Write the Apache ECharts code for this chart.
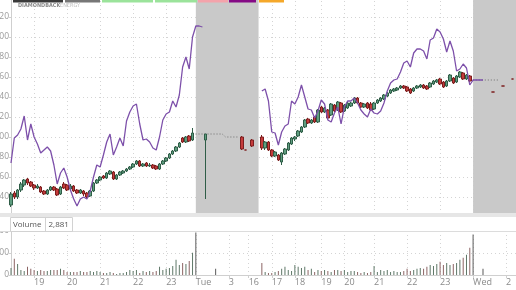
<!DOCTYPE html>
<html><head><meta charset="utf-8">
<script src="https://cdn.jsdelivr.net/npm/echarts@6/dist/echarts.min.js"></script>
<style>html,body{margin:0;padding:0;background:#fff}#c{width:516px;height:290px}</style>
</head><body><div id="c"></div>
<script>
// ---- data ----
const slotCount = 154;
const tickSlots = [7,17,27,37,47,56,66,72,79,86,94,101,110,120,130,140,150];
const tickTexts = ['19','20','21','22','23','Tue','3','16','17','18','19','20','21','22','23','Wed','2'];
// [slot, open, close, low, high]
const candleRows = [
[0,32,43,30,45],[1,44,40,38,46],[2,40,47,38,48],[3,47,53,45,55],[4,52,57,50,58],[5,58,54,52,59],
[6,55,51,50,56],[7,52,49,47,53],[8,49,51,48,53],[9,50,45,44,51],[10,46,43,42,47],[11,43,47,42,48],
[12,47,50,46,51],[13,50,47,46,51],[14,48,42,41,49],[15,43,50,42,51],[16,53,49,48,55],[17,52,47,46,53],
[18,48,51,47,53],[19,51,46,45,52],[20,47,44,43,48],[21,44,47,43,48],[22,46,43,41,47],[23,44,40,39,45],
[24,41,46,40,47],[25,46,54,45,55],[26,54,57,53,58],[27,57,60,56,61],[28,61,59,58,62],[29,59,64,58,65],
[30,63,66,62,67],[31,65,58,57,66],[32,58,62,57,63],[33,62,65,61,66],[34,64,66,63,67],[35,66,68,65,69],
[36,68,70,67,71],[37,70,73,69,74],[38,73,76,72,77],[39,76,71,70,77],[40,71,73,70,74],[41,74,71,70,75],
[42,71,72,70,74],[43,72,69,68,73],[44,71,68,67,72],[45,68,73,67,74],[46,73,76,72,77],[47,76,79,75,80],
[48,79,83,78,84],[49,83,86,82,87],[50,86,90,85,91],[51,90,94,89,95],[52,99,95,94,100],[53,95,100,94,101],
[54,101,96,95,102],[55,97,104,96,109],
[59,97,103,38,103],[70,100,88,87,101],[71,87,87,87,87],[73,97,91,90,98],
[76,100,89,87,102],[77,89,95,87,96],[78,95,87,86,96],[79,87,81,80,88],[80,81,85,80,86],[81,82,77,76,83],
[82,75,84,72,85],[83,83,88,82,89],[84,87,94,86,95],[85,93,99,92,100],[86,98,100,96,101],[87,101,106,100,107],
[88,105,110,104,111],[89,110,117,109,118],[90,118,114,113,119],[91,114,117,113,118],[92,120,115,114,121],
[93,115,127,114,128],[94,130,125,124,131],[95,125,129,124,130],[96,127,119,118,128],[97,122,133,121,134],
[98,132,126,125,133],[99,127,135,126,136],[100,134,125,124,135],[101,126,132,125,133],[102,129,134,128,135],
[103,131,134,130,135],[104,134,139,133,140],[105,139,134,133,140],[106,134,130,129,135],[107,130,133,129,134],
[108,134,129,128,135],[109,133,127,126,135],[110,128,134,127,135],[111,134,137,133,138],[112,136,139,135,140],
[113,138,142,137,143],[114,141,144,140,145],[115,144,147,143,148],[116,146,148,145,149],[117,147,149,146,150],
[118,149,151,148,152],[119,151,149,148,152],[120,150,146,145,151],[121,148,144,143,149],[122,146,149,145,150],
[123,149,151,148,152],[124,150,152,149,153],[125,152,149,148,153],[126,151,148,147,152],[127,150,154,149,155],
[128,153,156,152,157],[129,155,157,154,158],[130,158,153,152,159],[131,155,150,149,156],[132,151,156,150,157],
[133,156,162,155,163],[134,159,154,153,160],[135,155,161,154,162],[136,160,165,159,166],[137,164,158,157,165],
[138,158,162,157,163],[139,161,156,155,162],
[146,145,145,145,145],[149,151,151,151,151],[152,158,158,158,158]
];
const purpleStart1 = 0;
const purple1 = [74,99,102,108,121,97,113,100,93,84,87,90,86,72,53,64,69,60,47,38,
31,38,40,38,46,60,72,70,82,95,103,82,90,99,91,116,125,131,133,113,
97,98,95,89,87,100,117,123,125,136,130,142,170,180,168,200,211,211,210];
const purpleStart2 = 76;
const purple2 = [146,148,136,105,104,92,105,111,113,136,133,140,152,140,128,127,119,126,137,133,
117,115,124,130,113,130,136,136,139,134,127,123,120,128,124,123,126,134,146,154,
157,158,165,174,176,170,184,188,188,186,178,197,199,208,205,198,185,196,186,166,
168,173,169,152,157,157,157,157];
// dotted extended-hours price line: [slot, value]
const extLine = [[55,103],[56,103],[57,103],[58,103],[59,103],[60,103],[61,103],[62,103],[63,103],[64,103],
[65,100],[66,100],[67,100],[68,100],[69,100]];
const extLine2 = [[139,157],[140,157],[141,157],[142,157],[143,157],[144,157],[145,157],[146,157],[147,157],[148,157]];
const volStart1 = 0;
const vol1 = [160,370,250,115,90,185,140,115,90,115,90,90,115,115,115,140,115,70,70,70,
70,90,70,70,90,70,90,70,45,45,70,45,25,45,45,70,115,90,115,45,
90,70,90,70,90,185,115,140,160,205,345,230,275,250,320,505,965];
const volStart2 = 76;
const vol2 = [275,70,45,45,70,90,140,185,115,90,230,185,160,185,115,140,70,115,90,115,
90,70,115,115,90,115,70,90,90,70,45,70,45,70,205,70,115,90,115,70,
90,70,70,90,140,90,115,140,160,140,185,230,205,250,300,230,275,230,250,275,
345,390,460,620,920];
const volExtra = [[62,140],[143,140]];
const volumeLast = '2,881';

// ---- build ----
const categories = Array.from({length: slotCount}, (_, i) => String(i));
const tickMap = {}; tickSlots.forEach((s, k) => tickMap[s] = tickTexts[k]);
const isTick = (idx) => tickMap[idx] !== undefined;

const candleData = Array(slotCount).fill('-');
const dirAt = {};
candleRows.forEach(r => { candleData[r[0]] = [r[1], r[2], r[3], r[4]]; dirAt[r[0]] = r[2] >= r[1] ? 1 : -1; });
const purpleData = Array(slotCount).fill(null);
purple1.forEach((v, k) => purpleData[purpleStart1 + k] = v);
purple2.forEach((v, k) => purpleData[purpleStart2 + k] = v);
const extData = Array(slotCount).fill(null);
extLine.forEach(p => extData[p[0]] = p[1]);
const extData2 = Array(slotCount).fill(null);
extLine2.forEach(p => extData2[p[0]] = p[1]);
const volRaw = Array(slotCount).fill(null);
vol1.forEach((v, k) => volRaw[volStart1 + k] = v);
vol2.forEach((v, k) => volRaw[volStart2 + k] = v);
volExtra.forEach(p => volRaw[p[0]] = p[1]);
const volData = volRaw.map((v, i) => v == null ? '-' : {
  value: v,
  itemStyle: { color: dirAt[i] === 1 ? '#5f7868' : dirAt[i] === -1 ? '#8c6464' : '#5a5a5a' }
});

const FONT = 'Open Sans';
const chart = echarts.init(document.getElementById('c'), null, {renderer: 'canvas'});
const dotted = { type: [1, 3], color: '#d4d4d4', width: 1 };

chart.setOption({
  animation: false,
  backgroundColor: '#fff',
  grid: [
    { left: 11, right: 0, top: -3, height: 220, containLabel: false, outerBoundsMode: 'none' },
    { left: 11, right: 0, top: 231, height: 44, containLabel: false, outerBoundsMode: 'none' }
  ],
  xAxis: [
    { type: 'category', gridIndex: 0, data: categories, boundaryGap: false,
      axisLine: { show: false }, axisTick: { show: false }, axisLabel: { show: false },
      splitLine: { show: true, interval: (i) => isTick(i), lineStyle: dotted } },
    { type: 'category', gridIndex: 1, data: categories, boundaryGap: false,
      axisLine: { show: true, lineStyle: { color: '#cfcfcf' } },
      axisTick: { show: true, interval: (i) => isTick(i), length: 3, lineStyle: { color: '#cfcfcf' } },
      axisLabel: { interval: (i) => isTick(i), formatter: (v) => tickMap[+v] || '', align: 'left',
        color: '#8a8a8a', fontSize: 9, fontFamily: FONT, margin: 3 },
      splitLine: { show: true, interval: (i) => isTick(i), lineStyle: dotted } }
  ],
  yAxis: [
    { type: 'value', gridIndex: 0, min: 20, max: 240, interval: 20,
      axisLine: { show: true, lineStyle: { color: '#cfcfcf' } },
      axisTick: { show: true, length: 2, lineStyle: { color: '#cfcfcf' } },
      axisLabel: { color: '#9a9a9a', fontSize: 8.5, fontFamily: FONT, margin: 2, showMinLabel: false, showMaxLabel: false },
      splitLine: { show: true, lineStyle: dotted } },
    { type: 'value', gridIndex: 1, min: 0, max: 1000, interval: 500,
      axisLine: { show: true, lineStyle: { color: '#cfcfcf' } },
      axisTick: { show: true, length: 2, lineStyle: { color: '#cfcfcf' } },
      axisLabel: { color: '#9a9a9a', fontSize: 8.5, fontFamily: FONT, margin: 2 },
      splitLine: { show: true, lineStyle: dotted } }
  ],
  series: [
    { type: 'line', xAxisIndex: 0, yAxisIndex: 0, data: [], z: 1, silent: true,
      markArea: { silent: true, itemStyle: { color: '#c9c9c9', opacity: 1 },
        data: [[{ xAxis: '56' }, { xAxis: '75' }], [{ xAxis: '140' }, { xAxis: '153' }]] } },
    { type: 'line', xAxisIndex: 0, yAxisIndex: 0, data: extData, z: 3, symbol: 'none', connectNulls: false,
      lineStyle: { color: '#6e6e6e', width: 1, type: [1, 2] } },
    { type: 'line', xAxisIndex: 0, yAxisIndex: 0, data: extData2, z: 3, symbol: 'none', connectNulls: false,
      lineStyle: { color: '#6e6e6e', width: 1, type: [1, 2] } },
    { type: 'candlestick', xAxisIndex: 0, yAxisIndex: 0, data: candleData, z: 4, barWidth: 3,
      itemStyle: { color: '#5f9e80', color0: '#c53b3b', borderColor: '#2f5d47', borderColor0: '#7c1e1e', borderWidth: 1 } },
    { type: 'line', xAxisIndex: 0, yAxisIndex: 0, data: purpleData, z: 5, symbol: 'none', connectNulls: false,
      lineStyle: { color: '#7d50aa', width: 1.3 } },
    { type: 'bar', xAxisIndex: 1, yAxisIndex: 1, data: volData, barWidth: 1, z: 3 }
  ],
  graphic: [
    { type: 'rect', shape: { x: 13, y: 0, width: 50, height: 2.5 }, style: { fill: '#3a3a3a' }, z: 100 },
    { type: 'rect', shape: { x: 65, y: 0, width: 35, height: 2.5 }, style: { fill: '#777' }, z: 100 },
    { type: 'rect', shape: { x: 102, y: 0, width: 51, height: 2.5 }, style: { fill: '#9be39b' }, z: 100 },
    { type: 'rect', shape: { x: 155, y: 0, width: 42, height: 2.5 }, style: { fill: '#9be39b' }, z: 100 },
    { type: 'rect', shape: { x: 198, y: 0, width: 30, height: 2.5 }, style: { fill: '#f4a3ab' }, z: 100 },
    { type: 'rect', shape: { x: 229, y: 0, width: 27, height: 2.5 }, style: { fill: '#850a85' }, z: 100 },
    { type: 'rect', shape: { x: 259, y: 0, width: 25, height: 2.5 }, style: { fill: '#f5a82a' }, z: 100 },
    { type: 'text', x: 18, y: 6, style: { text: 'DIAMONDBACK', fill: '#8a8a8a', font: 'bold 5.5px "DejaVu Sans Condensed"', textVerticalAlign: 'middle' }, z: 100 },
    { type: 'text', x: 60, y: 6, style: { text: 'ENERGY', fill: '#bdbdbd', font: '5.5px "DejaVu Sans Condensed"', textVerticalAlign: 'middle' }, z: 100 },
    { type: 'rect', shape: { x: 0, y: 213, width: 516, height: 4 }, style: { fill: '#e6e6e6' }, z: 100 },
    { type: 'rect', shape: { x: 0, y: 217, width: 516, height: 14 }, style: { fill: '#fff' }, z: 100 },
    { type: 'line', shape: { x1: 0, y1: 231.5, x2: 516, y2: 231.5 }, style: { stroke: '#dcdcdc', lineWidth: 1 }, z: 100 },
    { type: 'rect', shape: { x: 10.5, y: 217.5, width: 62, height: 14 }, style: { fill: 'none', stroke: '#d2d2d2', lineWidth: 1 }, z: 101 },
    { type: 'line', shape: { x1: 45.5, y1: 217.5, x2: 45.5, y2: 231.5 }, style: { stroke: '#d2d2d2', lineWidth: 1 }, z: 101 },
    { type: 'text', x: 13, y: 224.5, style: { text: 'Volume', fill: '#555', font: '8px "Open Sans"', textVerticalAlign: 'middle' }, z: 102 },
    { type: 'text', x: 48.5, y: 224.5, style: { text: volumeLast, fill: '#555', font: '8px "Open Sans"', textVerticalAlign: 'middle' }, z: 102 }
  ]
});
</script></body></html>
